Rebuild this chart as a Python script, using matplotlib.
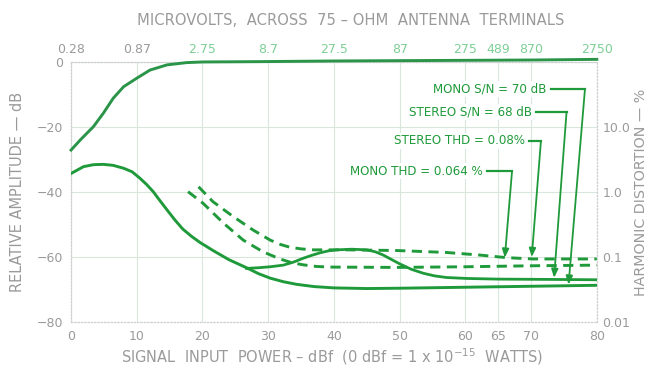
import numpy as np
import matplotlib
matplotlib.use("Agg")
import matplotlib.pyplot as plt

# Tuner quieting / distortion curves vs. signal input (dBf)
x_ticks = [0, 10, 20, 30, 40, 50, 60, 65, 70, 80]
uv_labels = ["0.28", "0.87", "2.75", "8.7", "27.5", "87", "275", "489", "870", "2750"]

# audio output response (0 dB reference)
resp_x = [0, 1.4, 3.4, 4.9, 6.4, 8.0, 10, 12, 14.6, 17.6, 20, 28.7, 40, 50, 60, 70, 80]
resp_y = [-27.1, -24, -19.9, -15.8, -11.2, -7.6, -5.0, -2.5, -0.9, -0.2, 0.0, 0.1, 0.3, 0.4, 0.5, 0.6, 0.8]

# mono noise
mono_x = [0, 1.9, 3.4, 4.9, 6.4, 8.0, 9.3, 10.5, 11.5, 12.5, 13.5, 14.6, 15.8, 17.0, 18.3, 19.6, 21.6,
          24.0, 26.7, 28.5, 30.3, 32.3, 34.3, 37.0, 40, 45, 50, 60, 70, 80]
mono_y = [-34.3, -32.2, -31.6, -31.5, -31.8, -32.7, -33.8, -35.8, -37.7, -39.9, -42.6, -45.5, -48.6,
          -51.4, -53.6, -55.5, -58.0, -60.8, -63.3, -65.1, -66.5, -67.6, -68.4, -69.1, -69.5, -69.7,
          -69.6, -69.3, -69.0, -68.7]

# stereo noise
st_x = [26.7, 28.5, 30.3, 32.3, 33.8, 35.3, 36.6, 37.9, 39.2, 40.4, 42.7, 45.0, 46.3, 47.5, 48.7, 50.0,
        51.8, 53.6, 55.3, 57.1, 60.2, 65, 73.4, 80]
st_y = [-63.5, -63.3, -63.0, -62.5, -61.6, -60.4, -59.5, -58.7, -58.1, -57.8, -57.6, -57.8, -58.4,
        -59.4, -60.7, -62.1, -63.8, -65.0, -65.8, -66.3, -66.6, -66.8, -66.9, -67.0]

# stereo THD (dashed)
sthd_x = [19.4, 21.6, 24.7, 27.7, 30.3, 31.8, 33.3, 35.0, 36.9, 41.9, 49.5, 57.1, 62.2, 66.3, 70.3, 80]
sthd_y = [-38.4, -43.0, -47.6, -51.7, -54.8, -56.1, -57.0, -57.5, -57.8, -57.8, -58.0, -58.6, -59.4,
          -60.2, -60.6, -60.6]

# mono THD (dashed)
mthd_x = [17.8, 20.1, 23.2, 26.2, 29.2, 31.8, 33.5, 35.3, 37.3, 39.4, 49.5, 60, 70, 80]
mthd_y = [-39.9, -43.5, -49.6, -54.8, -58.4, -60.6, -61.7, -62.4, -62.9, -63.1, -63.2, -63.0, -62.7, -62.5]

# callouts: text, text anchor, elbow, arrow tip
notes = [
    ("MONO S/N = 70 dB", (72.4, -8.3), (78.2, -8.3), (75.7, -68.5)),
    ("STEREO S/N = 68 dB", (70.2, -15.3), (75.4, -15.3), (73.5, -66.4)),
    ("STEREO THD = 0.08%", (69.1, -24.3), (71.5, -24.3), (70.1, -60.0)),
    ("MONO THD = 0.064 %", (62.7, -33.6), (67.1, -33.6), (66.0, -60.2)),
]

green = "#1f9a3a"
grey = "#9a9a9a"
gridc = "#d9e6dc"

fig = plt.figure(figsize=(6.58, 3.71), dpi=100)
ax = fig.add_axes([0.108, 0.132, 0.799, 0.701])

ax.plot(resp_x, resp_y, color="#2a9448", lw=2.1, clip_on=False, zorder=4)
ax.plot(mono_x, mono_y, color=green, lw=2.1, zorder=4)
ax.plot(st_x, st_y, color=green, lw=2.0, zorder=4)
ax.plot(sthd_x, sthd_y, color=green, lw=2.1, ls=(0, (3.5, 2.2)), zorder=4)
ax.plot(mthd_x, mthd_y, color=green, lw=2.1, ls=(0, (3.5, 2.2)), zorder=4)

for txt, tpos, elbow, tip in notes:
    ax.text(tpos[0], tpos[1], txt, ha="right", va="center", color=green, fontsize=8.6,
            bbox=dict(facecolor="white", edgecolor="none", pad=1.0), zorder=5)
    ax.plot([tpos[0] + 0.6, elbow[0]], [elbow[1], elbow[1]], color=green, lw=1.6, zorder=5)
    ax.annotate("", xy=tip, xytext=elbow,
                arrowprops=dict(arrowstyle="-|>,head_length=0.5,head_width=0.2",
                                color=green, lw=1.3, shrinkA=0, shrinkB=0), zorder=5)

ax.set_xlim(0, 80)
ax.set_ylim(-80, 0)
ax.set_xticks(x_ticks)
ax.set_yticks([0, -20, -40, -60, -80])
ax.tick_params(length=0, colors=grey, labelsize=9, pad=6)
ax.grid(True, color=gridc, lw=0.8)
ax.set_axisbelow(True)
for s in ax.spines.values():
    s.set_color("#cfcfcf")
    s.set_linestyle(":")
    s.set_linewidth(0.9)

# microvolt scale along the top
top = ax.twiny()
top.set_xlim(0, 80)
top.set_xticks(x_ticks)
top.set_xticklabels(uv_labels)
top.tick_params(length=0, labelsize=9, pad=4, colors="#7fcf96")
for lab in top.get_xticklabels()[:2]:
    lab.set_color(grey)
for s in top.spines.values():
    s.set_visible(False)

# distortion scale on the right (log, one decade per 20 dB)
rt = ax.twinx()
rt.set_yscale("log")
rt.set_ylim(0.01, 100)
rt.set_yticks([0.01, 0.1, 1, 10])
rt.set_yticklabels(["0.01", "0.1", "1.0", "10.0"])
rt.minorticks_off()
rt.tick_params(length=0, labelsize=9, pad=4, colors=grey)
for s in rt.spines.values():
    s.set_visible(False)

ax.set_ylabel("RELATIVE AMPLITUDE \u2014 dB", color=grey, fontsize=10.5, labelpad=8)
rt.set_ylabel("HARMONIC DISTORTION \u2014 %", color=grey, fontsize=10.3, labelpad=3)
fig.text(0.533, 0.945, "MICROVOLTS,  ACROSS  75 \u2013 OHM  ANTENNA  TERMINALS",
         ha="center", va="center", color=grey, fontsize=10.6)
fig.text(0.505, 0.038, "SIGNAL  INPUT  POWER \u2013 dBf  (0 dBf = 1 x 10$^{-15}$  WATTS)",
         ha="center", va="center", color=grey, fontsize=10.5)

fig.savefig("out.png", dpi=100)
